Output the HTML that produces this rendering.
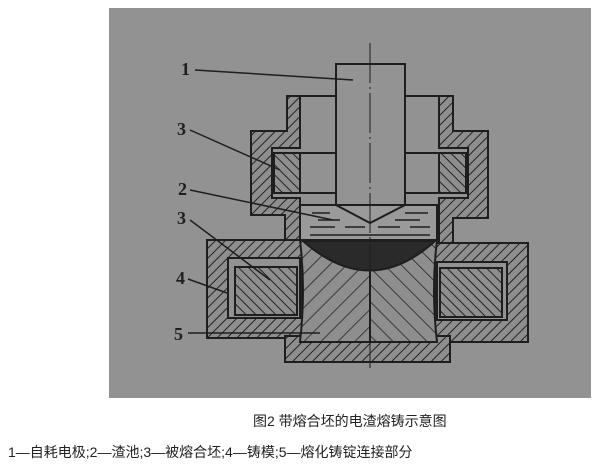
<!DOCTYPE html>
<html><head><meta charset="utf-8"><style>
body{margin:0;background:#fff;width:615px;height:465px;overflow:hidden;position:relative;font-family:"Liberation Sans","Noto Sans CJK SC",sans-serif;}
.t{position:absolute;font-size:14px;color:#222;white-space:nowrap;}
</style></head><body>
<svg width="615" height="465" style="position:absolute;left:0;top:0">
<defs>
<pattern id="hb" width="7" height="7" patternUnits="userSpaceOnUse" patternTransform="rotate(45)"><rect width="7" height="7" fill="#8e8e8e"/><line x1="0" y1="0" x2="0" y2="7" stroke="#222" stroke-width="2"/></pattern>
<pattern id="hf" width="7" height="7" patternUnits="userSpaceOnUse" patternTransform="rotate(-45)"><rect width="7" height="7" fill="#8e8e8e"/><line x1="0" y1="0" x2="0" y2="7" stroke="#222" stroke-width="2"/></pattern>
<pattern id="ib" width="12" height="12" patternUnits="userSpaceOnUse" patternTransform="rotate(45)"><rect width="12" height="12" fill="#8e8e8e"/><line x1="0" y1="0" x2="0" y2="12" stroke="#222" stroke-width="1.6"/></pattern>
<pattern id="if" width="12" height="12" patternUnits="userSpaceOnUse" patternTransform="rotate(-45)"><rect width="12" height="12" fill="#8e8e8e"/><line x1="0" y1="0" x2="0" y2="12" stroke="#222" stroke-width="1.6"/></pattern>
</defs>
<rect x="109" y="8" width="482" height="390" fill="#929292"/>
<g stroke="#1e1e1e" stroke-width="2">
<rect x="207" y="240" width="95" height="98" fill="url(#hb)"/>
<rect x="435" y="243" width="93" height="99" fill="url(#hb)"/>
<rect x="285" y="336" width="165" height="26" fill="url(#hb)"/>
<rect x="228" y="258" width="72" height="60" fill="#929292"/>
<rect x="235" y="267" width="62" height="48" fill="url(#hf)"/>
<rect x="437" y="262" width="70" height="58" fill="#929292"/>
<rect x="440" y="268" width="62" height="49" fill="url(#hf)"/>
<path d="M300,240 Q306,290 300,342 H370 V240 Z" fill="url(#ib)"/>
<path d="M370,240 V342 H437 Q431,290 437,240 Z" fill="url(#if)"/>
<path d="M303,241 Q370,300 435,241 Z" fill="#2a2a2a"/>
<rect x="300" y="205" width="137" height="35" fill="#9a9a9a"/>
<g stroke-width="1.5"><line x1="312" y1="213" x2="330" y2="213"/><line x1="318" y1="220" x2="340" y2="220"/><line x1="310" y1="227" x2="335" y2="227"/><line x1="345" y1="227" x2="365" y2="227"/><line x1="378" y1="227" x2="400" y2="227"/><line x1="410" y1="227" x2="430" y2="227"/><line x1="405" y1="213" x2="428" y2="213"/><line x1="395" y1="220" x2="420" y2="220"/><line x1="310" y1="235" x2="430" y2="235"/></g>
<path d="M287,96 H300 V148 H272 V198 H300 V240 H285 V215 H251 V131 H287 Z" fill="url(#hb)"/>
<rect x="274" y="153" width="26" height="40" fill="url(#hf)"/>
<path d="M453,96 H439 V148 H468 V198 H439 V243 H453 V218 H488 V131 H453 Z" fill="url(#hb)"/>
<rect x="439" y="153" width="27" height="40" fill="url(#hf)"/>
<g fill="none"><line x1="300" y1="96" x2="336" y2="96"/><line x1="405" y1="96" x2="439" y2="96"/><line x1="300" y1="153" x2="336" y2="153"/><line x1="405" y1="153" x2="439" y2="153"/><line x1="300" y1="193" x2="336" y2="193"/><line x1="405" y1="193" x2="439" y2="193"/><line x1="300" y1="205" x2="437" y2="205"/></g>
<path d="M336,64 H405 V205 H336 Z" fill="#939393"/>
<path d="M336,205 L370,223 L405,205" fill="none"/>
<line x1="370" y1="43" x2="370" y2="368" stroke-width="1" stroke-dasharray="40,4,2,4"/>
<g stroke-width="1.5"><line x1="195" y1="70" x2="353" y2="80"/><line x1="190" y1="130" x2="280" y2="170"/><line x1="190" y1="190" x2="333" y2="220"/><line x1="190" y1="220" x2="270" y2="280"/><line x1="188" y1="279" x2="227" y2="293"/><line x1="188" y1="333" x2="320" y2="333"/></g>
</g>
<g font-family="Liberation Serif,serif" font-size="18" font-weight="bold" fill="#1e1e1e">
<text x="181" y="75">1</text><text x="177" y="135">3</text><text x="178" y="195">2</text><text x="177" y="224">3</text><text x="176" y="284">4</text><text x="174" y="340">5</text>
</g>
</svg>
<div class="t" style="left:253px;top:411px">图2 带熔合坯的电渣熔铸示意图</div>
<div class="t" style="left:8px;top:442px">1—自耗电极;2—渣池;3—被熔合坯;4—铸模;5—熔化铸锭连接部分</div>
</body></html>
